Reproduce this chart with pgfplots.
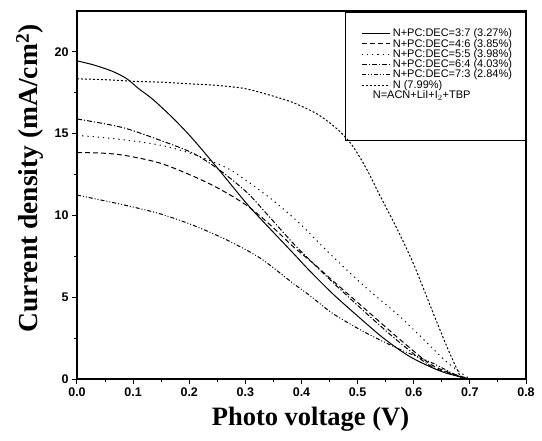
\documentclass[border=0pt]{standalone}
\usepackage{pgfplots}
\pgfplotsset{compat=1.18}
\usepackage{fontspec}
\setmainfont{Liberation Serif}
\setsansfont{Liberation Sans}
\begin{document}
\begin{tikzpicture}
\begin{axis}[
  scale only axis,
  width=449pt, height=368pt,
  xmin=0, xmax=0.8, ymin=0, ymax=22.5,
  xtick={0,0.1,...,0.8},
  ytick={0,5,10,15,20},
  minor x tick num=1,
  minor y tick num=1,
  tick align=outside,
  xtick pos=bottom, ytick pos=left,
  major tick length=5pt, minor tick length=3pt,
  axis line style={line width=1.3pt},
  every tick/.style={line width=1pt, black},
  /pgf/number format/assume math mode=true,
  ticklabel style={font=\sffamily\bfseries\fontsize{12.5}{14}\selectfont},
  xticklabel style={/pgf/number format/fixed, /pgf/number format/fixed zerofill, /pgf/number format/precision=1},
  yticklabel style={/pgf/number format/fixed},
  scaled ticks=false,
  xlabel={Photo voltage (V)},
  ylabel={Current density (mA/cm$^{\mathbf{2}}$)},
  label style={inner sep=0pt},
  xlabel style={font=\bfseries\fontsize{26.5}{30}\selectfont, at={(axis description cs:0.52,-0.075)}, anchor=north},
  ylabel style={font=\bfseries\fontsize{27.5}{30}\selectfont, at={(axis description cs:-0.0735,0.545)}, anchor=south},
  legend cell align=left,
  legend style={at={(axis description cs:0.633,0.952)}, anchor=north west,
    font=\sffamily\fontsize{11}{11}\selectfont, draw=none, fill=none,
    inner sep=0pt, row sep=0.8pt,
    nodes={inner sep=0pt},
    /tikz/every odd column/.append style={column sep=2.5pt}},
  legend image code/.code={\draw[#1, line width=0.9pt] (0pt,0pt) -- (28pt,0pt);},
]
\addplot[black, line width=1pt, smooth] coordinates {
(0,19.45) (0.03,19.2) (0.064,18.8) (0.089,18.35) (0.11,17.75) (0.135,17.1) (0.171,15.95) (0.207,14.65) (0.255,12.7) (0.303,10.7) (0.338,9.4) (0.385,7.7) (0.415,6.6) (0.456,5.2) (0.5,3.85) (0.546,2.5) (0.594,1.35) (0.65,0.45) (0.7,0)
};
\addlegendentry{N+PC:DEC=3:7 (3.27\%)}
\addplot[black, line width=1pt, smooth, dash pattern=on 5pt off 3pt] coordinates {
(0,13.85) (0.05,13.8) (0.089,13.65) (0.148,13.2) (0.207,12.4) (0.255,11.6) (0.303,10.6) (0.345,9.4) (0.385,8.1) (0.42,7.1) (0.456,6.0) (0.516,4.2) (0.576,2.4) (0.635,0.8) (0.7,0)
};
\addlegendentry{N+PC:DEC=4:6 (3.85\%)}
\addplot[black, line width=1pt, smooth, dash pattern=on 1.2pt off 4pt] coordinates {
(0,14.9) (0.05,14.75) (0.089,14.6) (0.148,14.3) (0.207,13.75) (0.267,12.9) (0.303,12.1) (0.35,10.9) (0.397,9.5) (0.439,8.05) (0.492,6.3) (0.528,5.2) (0.576,3.8) (0.624,2.2) (0.66,1.0) (0.7,0)
};
\addlegendentry{N+PC:DEC=5:5 (3.98\%)}
\addplot[black, line width=1pt, smooth, dash pattern=on 5pt off 2pt on 1.2pt off 2pt] coordinates {
(0,15.9) (0.05,15.6) (0.089,15.3) (0.148,14.6) (0.207,13.8) (0.255,12.75) (0.303,11.4) (0.338,10.1) (0.385,8.3) (0.42,7.1) (0.456,5.9) (0.516,4.0) (0.576,2.2) (0.635,0.7) (0.7,0)
};
\addlegendentry{N+PC:DEC=6:4 (4.03\%)}
\addplot[black, line width=1pt, smooth, dash pattern=on 4pt off 2pt on 1pt off 2pt on 1pt off 2pt] coordinates {
(0,11.25) (0.089,10.6) (0.148,10.1) (0.207,9.4) (0.267,8.5) (0.326,7.4) (0.385,5.85) (0.415,5.1) (0.456,4.0) (0.516,2.8) (0.576,1.8) (0.635,0.95) (0.68,0.15) (0.7,0)
};
\addlegendentry{N+PC:DEC=7:3 (2.84\%)}
\addplot[black, line width=1pt, smooth, dash pattern=on 2pt off 2pt] coordinates {
(0,18.35) (0.05,18.3) (0.1,18.2) (0.15,18.15) (0.2,18.05) (0.25,17.95) (0.3,17.75) (0.344,17.35) (0.385,16.9) (0.428,16.2) (0.463,15.3) (0.49,14.3) (0.515,12.9) (0.54,11.2) (0.57,9.2) (0.6,7.0) (0.635,4.0) (0.66,1.9) (0.685,0)
};
\addlegendentry{N (7.99\%)}
\addlegendimage{empty legend}
\addlegendentry{\hspace{-20pt}N=ACN+LiI+I$_2$+TBP}
\draw[line width=0.9pt] (axis description cs:0.597,0.649) rectangle (axis description cs:0.998,0.997);
\end{axis}
\pgfresetboundingbox
\path (current axis.south west) ++(-77pt,-61pt) coordinate (bl);
\path (current axis.north east) ++(16pt,11pt) coordinate (tr);
\useasboundingbox (bl) rectangle (tr);
\end{tikzpicture}
\end{document}
